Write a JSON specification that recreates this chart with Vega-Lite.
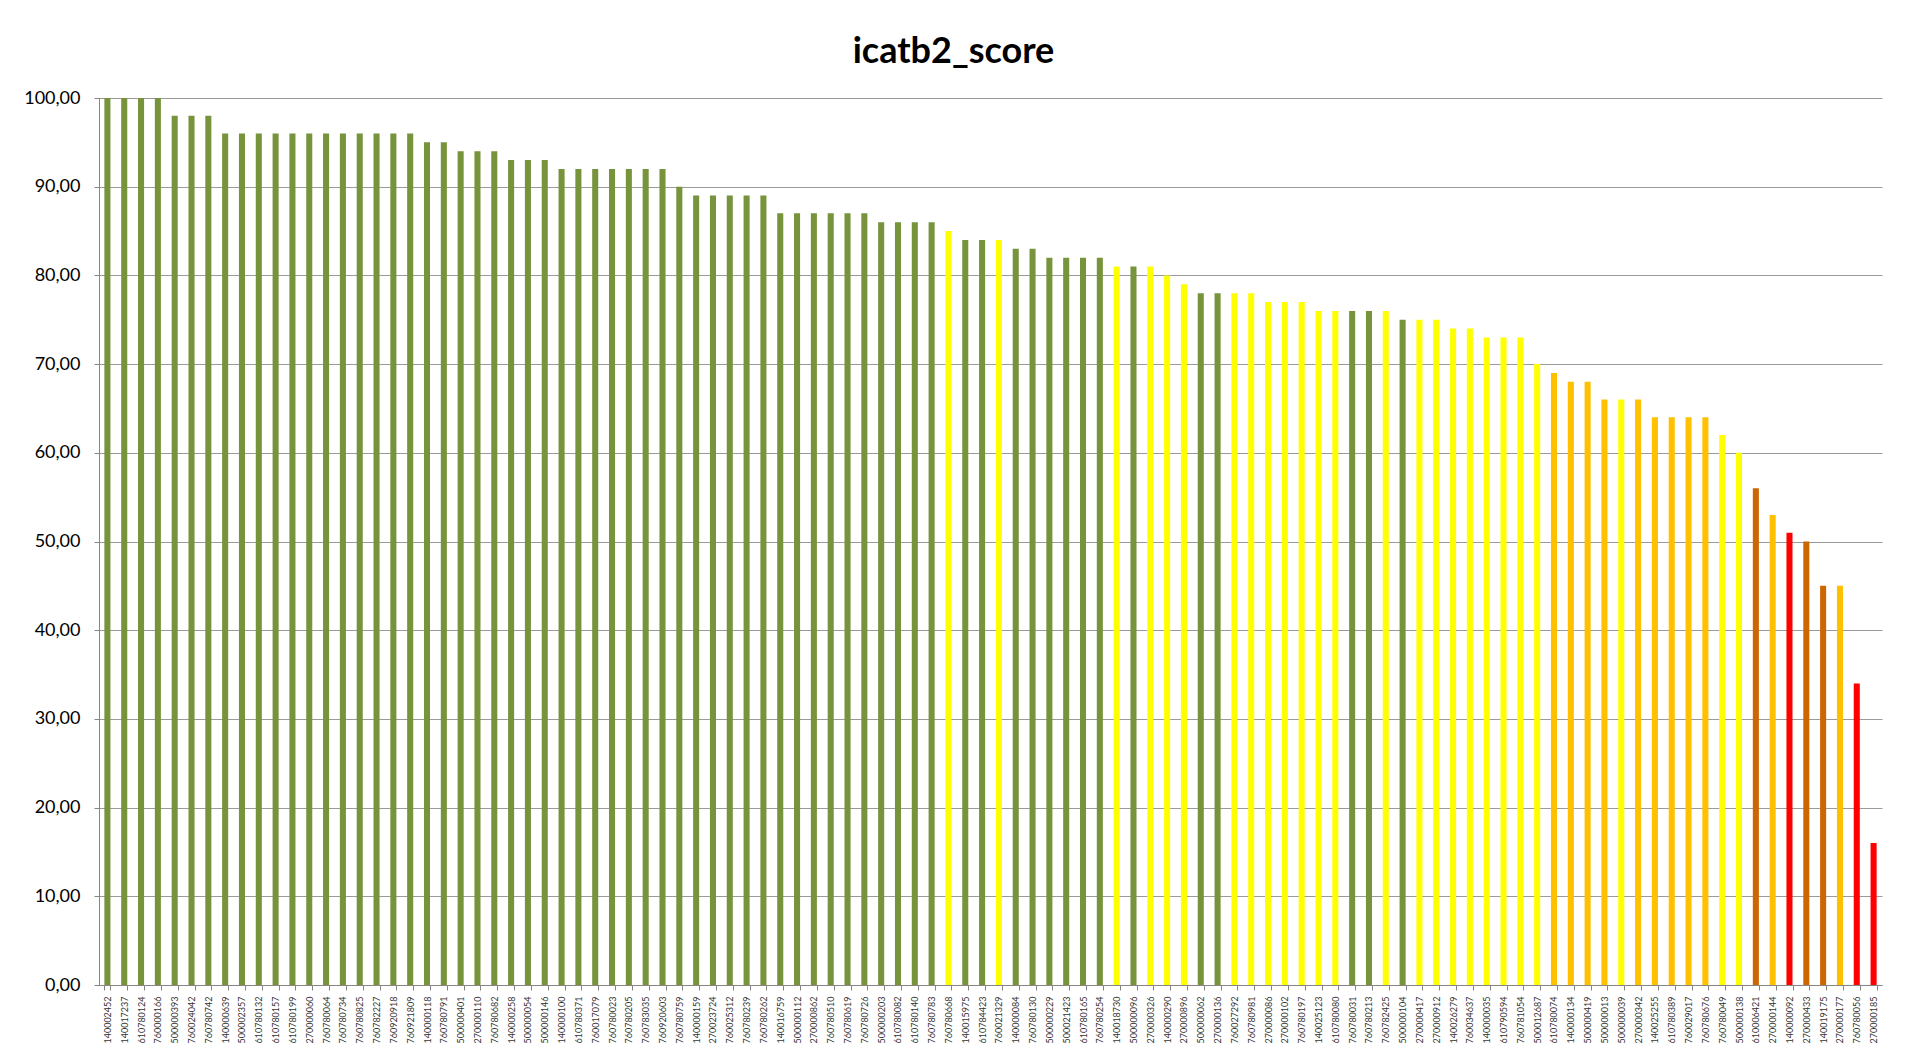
{
  "$schema": "https://vega.github.io/schema/vega-lite/v6.json",
  "autosize": {"type": "none"},
  "width": 1783,
  "height": 887,
  "padding": {"left": 99, "top": 98, "right": 23, "bottom": 75},
  "background": "white",
  "title": {
    "text": "icatb2_score",
    "font": "Lato",
    "fontSize": 36,
    "fontWeight": "bold",
    "color": "#000000",
    "anchor": "middle",
    "frame": "group",
    "baseline": "alphabetic",
    "offset": 38,
    "dx": -37,
    "dy": 48
  },
  "config": {
    "view": {"stroke": null},
    "font": "Lato"
  },
  "data": {
    "values": [
      {"id": "140002452", "score": 100, "level": "A"},
      {"id": "140017237", "score": 100, "level": "A"},
      {"id": "610780124", "score": 100, "level": "A"},
      {"id": "760000166", "score": 100, "level": "A"},
      {"id": "500000393", "score": 98, "level": "A"},
      {"id": "760024042", "score": 98, "level": "A"},
      {"id": "760780742", "score": 98, "level": "A"},
      {"id": "140000639", "score": 96, "level": "A"},
      {"id": "500002357", "score": 96, "level": "A"},
      {"id": "610780132", "score": 96, "level": "A"},
      {"id": "610780157", "score": 96, "level": "A"},
      {"id": "610780199", "score": 96, "level": "A"},
      {"id": "270000060", "score": 96, "level": "A"},
      {"id": "760780064", "score": 96, "level": "A"},
      {"id": "760780734", "score": 96, "level": "A"},
      {"id": "760780825", "score": 96, "level": "A"},
      {"id": "760782227", "score": 96, "level": "A"},
      {"id": "760920918", "score": 96, "level": "A"},
      {"id": "760921809", "score": 96, "level": "A"},
      {"id": "140000118", "score": 95, "level": "A"},
      {"id": "760780791", "score": 95, "level": "A"},
      {"id": "500000401", "score": 94, "level": "A"},
      {"id": "270000110", "score": 94, "level": "A"},
      {"id": "760780682", "score": 94, "level": "A"},
      {"id": "140000258", "score": 93, "level": "A"},
      {"id": "500000054", "score": 93, "level": "A"},
      {"id": "500000146", "score": 93, "level": "A"},
      {"id": "140000100", "score": 92, "level": "A"},
      {"id": "610780371", "score": 92, "level": "A"},
      {"id": "760017079", "score": 92, "level": "A"},
      {"id": "760780023", "score": 92, "level": "A"},
      {"id": "760780205", "score": 92, "level": "A"},
      {"id": "760783035", "score": 92, "level": "A"},
      {"id": "760920603", "score": 92, "level": "A"},
      {"id": "760780759", "score": 90, "level": "A"},
      {"id": "140000159", "score": 89, "level": "A"},
      {"id": "270023724", "score": 89, "level": "A"},
      {"id": "760025312", "score": 89, "level": "A"},
      {"id": "760780239", "score": 89, "level": "A"},
      {"id": "760780262", "score": 89, "level": "A"},
      {"id": "140016759", "score": 87, "level": "A"},
      {"id": "500000112", "score": 87, "level": "A"},
      {"id": "270000862", "score": 87, "level": "A"},
      {"id": "760780510", "score": 87, "level": "A"},
      {"id": "760780619", "score": 87, "level": "A"},
      {"id": "760780726", "score": 87, "level": "A"},
      {"id": "500000203", "score": 86, "level": "A"},
      {"id": "610780082", "score": 86, "level": "A"},
      {"id": "610780140", "score": 86, "level": "A"},
      {"id": "760780783", "score": 86, "level": "A"},
      {"id": "760780668", "score": 85, "level": "B"},
      {"id": "140015975", "score": 84, "level": "A"},
      {"id": "610784423", "score": 84, "level": "A"},
      {"id": "760021329", "score": 84, "level": "B"},
      {"id": "140000084", "score": 83, "level": "A"},
      {"id": "760780130", "score": 83, "level": "A"},
      {"id": "500000229", "score": 82, "level": "A"},
      {"id": "500021423", "score": 82, "level": "A"},
      {"id": "610780165", "score": 82, "level": "A"},
      {"id": "760780254", "score": 82, "level": "A"},
      {"id": "140018730", "score": 81, "level": "B"},
      {"id": "500000096", "score": 81, "level": "A"},
      {"id": "270000326", "score": 81, "level": "B"},
      {"id": "140000290", "score": 80, "level": "B"},
      {"id": "270000896", "score": 79, "level": "B"},
      {"id": "500000062", "score": 78, "level": "A"},
      {"id": "270000136", "score": 78, "level": "A"},
      {"id": "760027292", "score": 78, "level": "B"},
      {"id": "760780981", "score": 78, "level": "B"},
      {"id": "270000086", "score": 77, "level": "B"},
      {"id": "270000102", "score": 77, "level": "B"},
      {"id": "760780197", "score": 77, "level": "B"},
      {"id": "140025123", "score": 76, "level": "B"},
      {"id": "610780080", "score": 76, "level": "B"},
      {"id": "760780031", "score": 76, "level": "A"},
      {"id": "760780213", "score": 76, "level": "A"},
      {"id": "760782425", "score": 76, "level": "B"},
      {"id": "500000104", "score": 75, "level": "A"},
      {"id": "270000417", "score": 75, "level": "B"},
      {"id": "270000912", "score": 75, "level": "B"},
      {"id": "140026279", "score": 74, "level": "B"},
      {"id": "760034637", "score": 74, "level": "B"},
      {"id": "140000035", "score": 73, "level": "B"},
      {"id": "610790594", "score": 73, "level": "B"},
      {"id": "760781054", "score": 73, "level": "B"},
      {"id": "500012687", "score": 70, "level": "B"},
      {"id": "610780074", "score": 69, "level": "C"},
      {"id": "140000134", "score": 68, "level": "C"},
      {"id": "500000419", "score": 68, "level": "C"},
      {"id": "500000013", "score": 66, "level": "C"},
      {"id": "500000039", "score": 66, "level": "B"},
      {"id": "270000342", "score": 66, "level": "C"},
      {"id": "140025255", "score": 64, "level": "C"},
      {"id": "610780389", "score": 64, "level": "C"},
      {"id": "760029017", "score": 64, "level": "C"},
      {"id": "760780676", "score": 64, "level": "C"},
      {"id": "760780049", "score": 62, "level": "B"},
      {"id": "500000138", "score": 60, "level": "B"},
      {"id": "610006421", "score": 56, "level": "D"},
      {"id": "270000144", "score": 53, "level": "C"},
      {"id": "140000092", "score": 51, "level": "E"},
      {"id": "270000433", "score": 50, "level": "D"},
      {"id": "140019175", "score": 45, "level": "D"},
      {"id": "270000177", "score": 45, "level": "C"},
      {"id": "760780056", "score": 34, "level": "E"},
      {"id": "270000185", "score": 16, "level": "E"}
    ]
  },
  "mark": {"type": "bar"},
  "encoding": {
    "x": {
      "field": "id",
      "type": "nominal",
      "sort": null,
      "scale": {"paddingInner": 0.64, "paddingOuter": 0.32},
      "axis": {
        "title": null,
        "labelAngle": -90,
        "labelFont": "Lato",
        "labelFontSize": 9,
        "labelColor": "#333333",
        "labelPadding": 6,
        "tickSize": 5,
        "tickBand": "extent",
        "tickColor": "#868686",
        "domainColor": "#868686",
        "domainWidth": 1,
        "grid": false
      }
    },
    "y": {
      "field": "score",
      "type": "quantitative",
      "scale": {"domain": [0, 100], "nice": false},
      "axis": {
        "title": null,
        "values": [0, 10, 20, 30, 40, 50, 60, 70, 80, 90, 100],
        "labelExpr": "replace(format(datum.value, '.2f'), '.', ',')",
        "labelFont": "Lato",
        "labelFontSize": 18,
        "labelColor": "#000000",
        "labelPadding": 14,
        "tickSize": 5,
        "tickColor": "#868686",
        "domainColor": "#868686",
        "grid": true,
        "gridColor": "#9a9a9a",
        "gridWidth": 1
      }
    },
    "color": {
      "field": "level",
      "type": "nominal",
      "scale": {
        "domain": ["A", "B", "C", "D", "E"],
        "range": ["#77933C", "#FFFF00", "#FFC000", "#CC6600", "#FF0000"]
      },
      "legend": null
    }
  }
}
